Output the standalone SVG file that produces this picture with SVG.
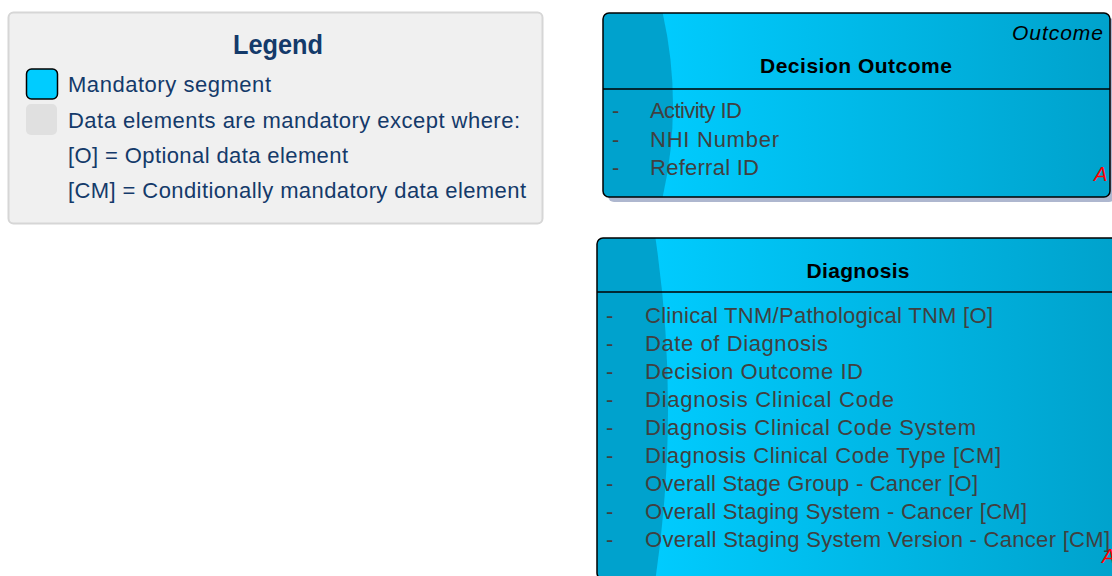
<svg xmlns="http://www.w3.org/2000/svg" width="1112" height="576" viewBox="0 0 1112 576">
  <style>
    .lg { font-family: "Liberation Sans", Arial, sans-serif; font-size: 22px; fill: #143a6a; }
    .lgt { font-family: "Liberation Sans", Arial, sans-serif; font-size: 28px; font-weight: bold; fill: #143a6a; }
    .ttl { font-family: "Liberation Sans", Arial, sans-serif; font-size: 21px; font-weight: bold; fill: #000; }
    .stereo { font-family: "Liberation Sans", Arial, sans-serif; font-size: 21px; font-style: italic; fill: #000; }
    .attr { font-family: "Liberation Sans", Arial, sans-serif; font-size: 22px; fill: #404040; }
    .mark { font-family: "Liberation Sans", Arial, sans-serif; font-size: 20px; font-style: italic; fill: #ff0000; }
    .frame { fill: none; stroke: #000; stroke-width: 1.5; }
    .shadow { fill: #aeb7cf; }
    .dark { fill: #00a2cd; }
    .sep { stroke: #000; stroke-width: 1.5; }
  </style>
  <defs>
    <linearGradient id="body" x1="0" y1="0" x2="1" y2="0">
      <stop offset="0.1" stop-color="#00ccff"/>
      <stop offset="1" stop-color="#00a2cc"/>
    </linearGradient>
    <clipPath id="clipDO"><rect x="603" y="13" width="507" height="184" rx="6"/></clipPath>
    <clipPath id="clipDG"><rect x="597" y="238" width="520" height="341" rx="6"/></clipPath>
  </defs>

  <g id="legend">
    <rect x="8.5" y="12.5" width="534" height="211" rx="5" fill="#f0f0f0" stroke="#d6d6d6" stroke-width="2"/>
    <text class="lgt" x="278" y="54" text-anchor="middle" textLength="90" lengthAdjust="spacingAndGlyphs">Legend</text>
    <rect x="26.5" y="69" width="31" height="30" rx="5" fill="#00ccff" stroke="#000" stroke-width="1.5"/>
    <rect x="26" y="104" width="31" height="31" rx="5" fill="#e0e0e0"/>
    <text class="lg" x="68" y="92" textLength="203" lengthAdjust="spacing">Mandatory segment</text>
    <text class="lg" x="68" y="128" textLength="452" lengthAdjust="spacing">Data elements are mandatory except where:</text>
    <text class="lg" x="68" y="163" textLength="280" lengthAdjust="spacing">[O] = Optional data element</text>
    <text class="lg" x="68" y="198" textLength="458" lengthAdjust="spacing">[CM] = Conditionally mandatory data element</text>
  </g>

  <g id="decision-outcome">
    <rect class="shadow" x="608" y="18" width="507" height="184" rx="6"/>
    <rect x="603" y="13" width="507" height="184" rx="6" fill="url(#body)"/>
    <path class="dark" clip-path="url(#clipDO)" d="M600,10 H662 Q684,105 662,200 H600 Z"/>
    <rect class="frame" x="603" y="13" width="507" height="184" rx="6"/>
    <line class="sep" x1="603" y1="89" x2="1110" y2="89"/>
    <text class="stereo" x="1103" y="40" text-anchor="end" textLength="91" lengthAdjust="spacing">Outcome</text>
    <text class="ttl" x="856" y="73" text-anchor="middle" textLength="192" lengthAdjust="spacing">Decision Outcome</text>
    <text class="attr" x="612" y="118">-</text>
    <text class="attr" x="650" y="118" textLength="92" lengthAdjust="spacing">Activity ID</text>
    <text class="attr" x="612" y="146.5">-</text>
    <text class="attr" x="650" y="146.5" textLength="129" lengthAdjust="spacing">NHI Number</text>
    <text class="attr" x="612" y="175">-</text>
    <text class="attr" x="650" y="175" textLength="109" lengthAdjust="spacing">Referral ID</text>
    <text class="mark" x="1094" y="181">A</text>
  </g>

  <g id="diagnosis">
    <rect class="shadow" x="602" y="243" width="520" height="341" rx="6"/>
    <rect x="597" y="238" width="520" height="341" rx="6" fill="url(#body)"/>
    <path class="dark" clip-path="url(#clipDG)" d="M594,235 H655 Q681,408 655,582 H594 Z"/>
    <rect class="frame" x="597" y="238" width="520" height="341" rx="6"/>
    <line class="sep" x1="597" y1="292" x2="1117" y2="292"/>
    <text class="ttl" x="858" y="278" text-anchor="middle" textLength="103" lengthAdjust="spacing">Diagnosis</text>
    <text class="attr" x="606" y="323">-</text>
    <text class="attr" x="645" y="323" textLength="348" lengthAdjust="spacing">Clinical TNM/Pathological TNM [O]</text>
    <text class="attr" x="606" y="351">-</text>
    <text class="attr" x="645" y="351" textLength="183" lengthAdjust="spacing">Date of Diagnosis</text>
    <text class="attr" x="606" y="379">-</text>
    <text class="attr" x="645" y="379" textLength="218" lengthAdjust="spacing">Decision Outcome ID</text>
    <text class="attr" x="606" y="407">-</text>
    <text class="attr" x="645" y="407" textLength="249" lengthAdjust="spacing">Diagnosis Clinical Code</text>
    <text class="attr" x="606" y="435">-</text>
    <text class="attr" x="645" y="435" textLength="331" lengthAdjust="spacing">Diagnosis Clinical Code System</text>
    <text class="attr" x="606" y="463">-</text>
    <text class="attr" x="645" y="463" textLength="356" lengthAdjust="spacing">Diagnosis Clinical Code Type [CM]</text>
    <text class="attr" x="606" y="491">-</text>
    <text class="attr" x="645" y="491" textLength="333" lengthAdjust="spacing">Overall Stage Group - Cancer [O]</text>
    <text class="attr" x="606" y="519">-</text>
    <text class="attr" x="645" y="519" textLength="382" lengthAdjust="spacing">Overall Staging System - Cancer [CM]</text>
    <text class="attr" x="606" y="547">-</text>
    <text class="attr" x="645" y="547" textLength="465" lengthAdjust="spacing">Overall Staging System Version - Cancer [CM]</text>
    <text class="mark" x="1102" y="563">A</text>
  </g>

  <g id="connectors"/>
</svg>
